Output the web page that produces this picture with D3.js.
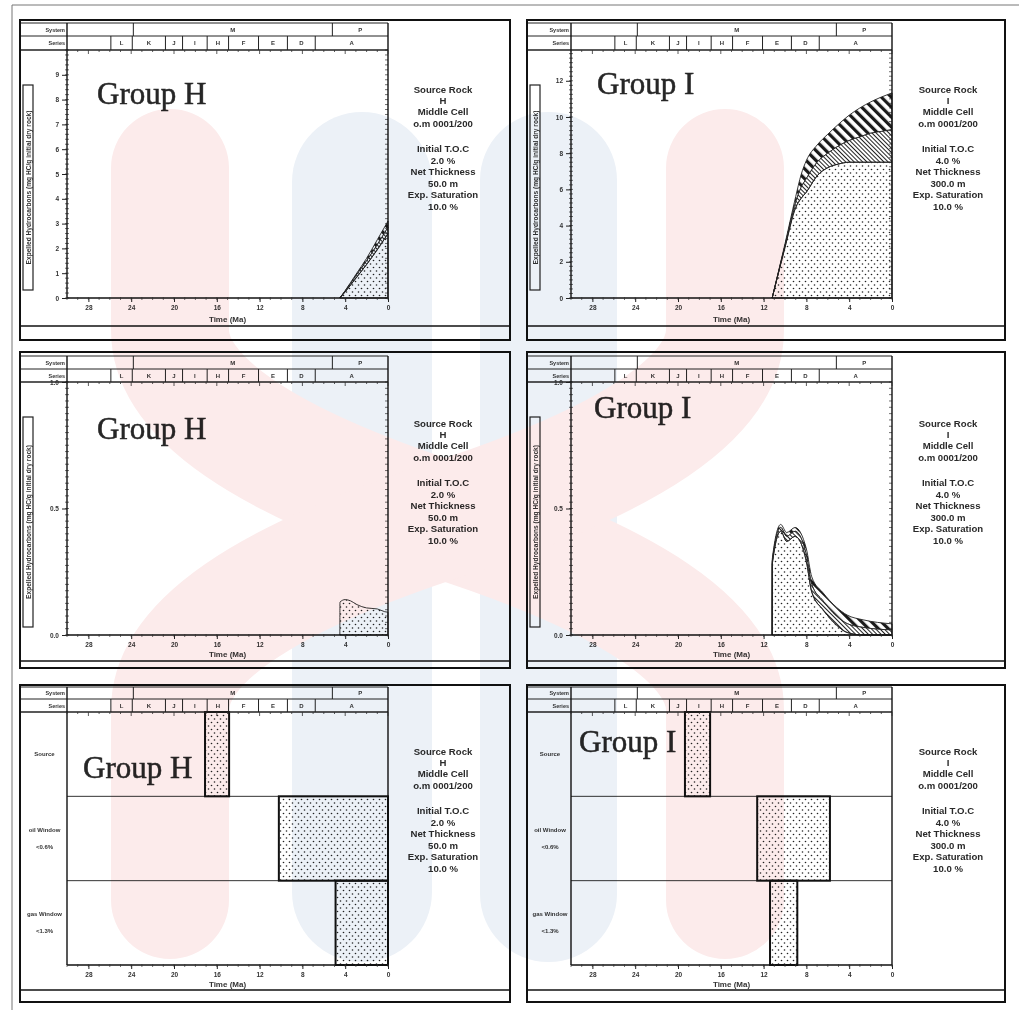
<!DOCTYPE html>
<html><head><meta charset="utf-8">
<script src="https://cdn.jsdelivr.net/npm/d3@7"></script>
<style>body{margin:0;background:#fff}svg{display:block}</style>
</head><body>
<svg id="c" width="1019" height="1010"></svg>
<script>
// ---------- DATA ----------
const timeTicks=[28,24,20,16,12,8,4,0];
const systemNames=["","M","P"];
const systemBounds=[30,23.8,5.2,0];
const seriesNames=["","L","K","J","I","H","F","E","D","A"];
const seriesBounds=[30,25.9,23.9,20.8,19.2,16.9,14.9,12.1,9.4,6.8,0];

// cumulative expelled hydrocarbons, Group H (mg HC/g)
const hTimes=[4.5,4,3,2,1,0];
const hOil=[0,0.25,0.8,1.35,1.95,2.6];
const hMid=[0,0.03,0.1,0.15,0.2,0.25];
const hTop=[0,0.02,0.05,0.1,0.2,0.25];

// cumulative expelled hydrocarbons, Group I
const iTimes=[11.2,10,9,8.5,8,7,6,5,4,3,2,1,0];
const iOil=[0,2.8,5.0,5.5,5.85,6.75,7.2,7.4,7.5,7.5,7.5,7.5,7.5];
const iMid=[0,0.1,0.3,0.6,0.75,0.75,0.8,1.0,1.2,1.4,1.6,1.7,1.8];
const iTop=[0,0.1,0.3,0.7,1.0,0.95,1.05,1.2,1.4,1.6,1.73,1.9,2.03];

// expulsion rate, Group H
const hRateTimes=[4.5,4.49,4.0,3.5,2.9,2.0,1.0,0.3,0];
const hRate=[0,0.13,0.14,0.135,0.12,0.107,0.103,0.092,0.09];

// expulsion rate, Group I
const iRateTimes=[11.2,11.19,10.4,9.84,9.06,8.0,7.5,6.45,5.2,4.2,2.7,0];
const iRateOil=[0,0.28,0.41,0.37,0.39,0.29,0.17,0.10,0.04,0.01,0,0];
const iRateMid=[0,0.01,0.015,0.02,0.02,0.025,0.03,0.035,0.035,0.035,0.03,0.02];
const iRateTop=[0,0.01,0.012,0.015,0.015,0.025,0.03,0.032,0.035,0.034,0.03,0.024];

// events
const eventRows=["Source","Oil","Gas"];
const eventRowLabels=[["Source"],["oil Window","<0.6%"],["gas Window","<1.3%"]];
const hEvents=[[17.1,14.85],[10.2,0],[4.9,0]];
const iEvents=[[19.35,17.0],[12.6,5.8],[11.4,8.85]];

const hInfo=["Source Rock","H","Middle Cell","o.m 0001/200","Initial T.O.C","2.0 %","Net Thickness","50.0 m","Exp. Saturation","10.0 %"];
const iInfo=["Source Rock","I","Middle Cell","o.m 0001/200","Initial T.O.C","4.0 %","Net Thickness","300.0 m","Exp. Saturation","10.0 %"];
const yTitle="Expelled Hydrocarbons (mg HC/g initial dry rock)";

// ---------- LAYOUT ----------
const rowsCfg=[
 {boxTop:20,boxBot:340,hdrTop:23,hdrMid:36,hdrBot:50,plotBot:298,strip:326,xLab:310,title:322,infoY:93,tb:[85,290]},
 {boxTop:352,boxBot:668,hdrTop:356,hdrMid:369,hdrBot:382,plotBot:635,strip:661,xLab:646,title:657,infoY:427,tb:[417,627]},
 {boxTop:685,boxBot:1002,hdrTop:687,hdrMid:699,hdrBot:712,plotBot:965,strip:990,xLab:976,title:987,infoY:755}
];
const colsCfg=[
 {boxL:20,boxR:510,plotL:67,plotR:388,infoX:443},
 {boxL:527,boxR:1005,plotL:571,plotR:892,infoX:948}
];

const svg=d3.select("#c");
const defs=svg.append("defs");
const pd=defs.append("pattern").attr("id","dots").attr("width",6).attr("height",7).attr("patternUnits","userSpaceOnUse");
pd.append("circle").attr("cx",1.5).attr("cy",1.5).attr("r",0.8).attr("fill","#222");
pd.append("circle").attr("cx",4.5).attr("cy",5).attr("r",0.8).attr("fill","#222");
const pf=defs.append("pattern").attr("id","fine").attr("width",3).attr("height",3).attr("patternUnits","userSpaceOnUse").attr("patternTransform","rotate(-45)");
pf.append("rect").attr("width",3).attr("height",3).attr("fill","#fff");
pf.append("line").attr("x1",0.5).attr("x2",0.5).attr("y1",0).attr("y2",3).attr("stroke","#222").attr("stroke-width",1);
const pc=defs.append("pattern").attr("id","coarse").attr("width",7).attr("height",7).attr("patternUnits","userSpaceOnUse").attr("patternTransform","rotate(-45)");
pc.append("rect").attr("width",7).attr("height",7).attr("fill","#fff");
pc.append("rect").attr("x",0).attr("width",3.2).attr("height",7).attr("fill","#1a1a1a");

svg.append("rect").attr("width",1019).attr("height",1010).attr("fill","#fff");
svg.append("line").attr("x1",12).attr("x2",1019).attr("y1",5).attr("y2",5).attr("stroke","#777");
svg.append("line").attr("x1",12).attr("x2",12).attr("y1",5).attr("y2",1010).attr("stroke","#777");

const panels=[
 {r:0,c:0,type:"cum",group:"Group H",gx:97,gy:104,info:hInfo,yMax:10,yLabels:d3.range(0,10),fmt:"d",minor:0.2,
  times:hTimes,layers:[["oil",hOil,"url(#dots)"],["mid",hMid,"url(#fine)"],["top",hTop,"url(#coarse)"]]},
 {r:0,c:1,type:"cum",group:"Group I",gx:597,gy:94,info:iInfo,yMax:13.7,yLabels:[0,2,4,6,8,10,12],fmt:"d",minor:0.25,
  times:iTimes,layers:[["oil",iOil,"url(#dots)"],["mid",iMid,"url(#fine)"],["top",iTop,"url(#coarse)"]]},
 {r:1,c:0,type:"cum",group:"Group H",gx:97,gy:439,info:hInfo,yMax:1,yLabels:[0,0.5,1.0],fmt:".1f",minor:0.025,
  times:hRateTimes,layers:[["oil",hRate,"url(#dots)"]]},
 {r:1,c:1,type:"cum",group:"Group I",gx:594,gy:418,info:iInfo,yMax:1,yLabels:[0,0.5,1.0],fmt:".1f",minor:0.025,
  times:iRateTimes,layers:[["oil",iRateOil,"url(#dots)"],["mid",iRateMid,"url(#fine)"],["top",iRateTop,"url(#coarse)"]]},
 {r:2,c:0,type:"events",group:"Group H",gx:83,gy:778,info:hInfo,events:hEvents},
 {r:2,c:1,type:"events",group:"Group I",gx:579,gy:752,info:iInfo,events:iEvents}
];

const FONT="Liberation Sans, Arial, sans-serif";

function drawPanel(p){
  const R=rowsCfg[p.r], C=colsCfg[p.c];
  const g=svg.append("g");
  const x=d3.scaleLinear().domain([30,0]).range([C.plotL,C.plotR]);

  // marks
  if(p.type==="events"){
    const yb=d3.scaleBand().domain(eventRows).range([R.hdrBot,R.plotBot]);
    eventRows.slice(1).forEach(k=>{
      g.append("line").attr("x1",C.plotL).attr("x2",C.plotR).attr("y1",yb(k)).attr("y2",yb(k)).attr("stroke","#333").attr("stroke-width",1);
    });
    g.selectAll("rect.ev").data(p.events).join("rect").attr("class","ev")
      .attr("x",d=>x(d[0])).attr("width",d=>x(d[1])-x(d[0]))
      .attr("y",(d,i)=>yb(eventRows[i])).attr("height",yb.bandwidth())
      .attr("fill","url(#dots)").attr("stroke","#111").attr("stroke-width",2);
    eventRowLabels.forEach((lab,i)=>{
      const cy=yb(eventRows[i])+yb.bandwidth()/2;
      lab.forEach((t,j)=>{
        g.append("text").attr("x",(C.boxL+C.plotL)/2+1).attr("y",cy+(j-(lab.length-1)/2)*17+2)
         .attr("text-anchor","middle").attr("font-family",FONT).attr("font-weight","bold").attr("font-size",6).attr("fill","#333").text(t);
      });
    });
  } else {
    const y=d3.scaleLinear().domain([0,p.yMax]).range([R.plotBot,R.hdrBot]);
    const table=p.times.map((t,i)=>{const o={t};p.layers.forEach(l=>o[l[0]]=l[1][i]);return o;});
    const keys=p.layers.map(l=>l[0]);
    const series=d3.stack().keys(keys)(table);
    const area=d3.area().x(d=>x(d.data.t)).y0(d=>y(d[0])).y1(d=>y(d[1])).curve(d3.curveMonotoneX);
    series.slice().reverse().forEach(s=>{
      const l=p.layers.find(q=>q[0]===s.key);
      g.append("path").attr("d",area(s)).attr("fill",l[2]).attr("stroke","#222").attr("stroke-width",0.9);
    });
    // y axis
    const ya=g.append("g").attr("transform",`translate(${C.plotL},0)`)
      .call(d3.axisLeft(y).tickValues(p.yLabels).tickSize(5).tickFormat(d3.format(p.fmt)));
    ya.select(".domain").remove();
    ya.selectAll("text").attr("font-family",FONT).attr("font-weight","bold").attr("font-size",6.5).attr("fill","#333");
    ya.selectAll("line").attr("stroke","#222");
    const mv=d3.range(0,p.yMax+1e-9,p.minor);
    g.selectAll("line.ymin").data(mv).join("line").attr("class","ymin")
      .attr("x1",C.plotL-2).attr("x2",C.plotL+2).attr("y1",d=>y(d)).attr("y2",d=>y(d)).attr("stroke","#333").attr("stroke-width",0.7);
    g.selectAll("line.ymin2").data(mv).join("line").attr("class","ymin2")
      .attr("x1",C.plotR-3).attr("x2",C.plotR).attr("y1",d=>y(d)).attr("y2",d=>y(d)).attr("stroke","#333").attr("stroke-width",0.7);
    // y title box
    const cx=C.boxL+8, cy=(R.tb[0]+R.tb[1])/2;
    g.append("rect").attr("x",C.boxL+3).attr("y",R.tb[0]).attr("width",10).attr("height",R.tb[1]-R.tb[0]).attr("fill","#fff").attr("stroke","#222").attr("stroke-width",1.2);
    g.append("text").attr("transform",`translate(${cx+2.5},${cy}) rotate(-90)`).attr("text-anchor","middle")
      .attr("font-family",FONT).attr("font-weight","bold").attr("font-size",6.6).attr("fill","#333").text(yTitle);
  }

  // panel box and strip
  g.append("rect").attr("x",C.boxL).attr("y",R.boxTop).attr("width",C.boxR-C.boxL).attr("height",R.boxBot-R.boxTop)
    .attr("fill","none").attr("stroke","#111").attr("stroke-width",2);
  g.append("line").attr("x1",C.boxL).attr("x2",C.boxR).attr("y1",R.strip).attr("y2",R.strip).attr("stroke","#111").attr("stroke-width",1.6);

  // header
  [R.hdrTop,R.hdrMid,R.hdrBot].forEach((yy,i)=>{
    g.append("line").attr("x1",C.boxL+1).attr("x2",C.plotR).attr("y1",yy).attr("y2",yy).attr("stroke","#222").attr("stroke-width",i===2?1.4:1);
  });
  g.append("line").attr("x1",C.plotL).attr("x2",C.plotL).attr("y1",R.hdrTop).attr("y2",R.plotBot).attr("stroke","#111").attr("stroke-width",1.4);
  g.append("line").attr("x1",C.plotR).attr("x2",C.plotR).attr("y1",R.hdrTop).attr("y2",R.plotBot).attr("stroke","#111").attr("stroke-width",1.4);
  systemBounds.slice(1,-1).forEach(b=>g.append("line").attr("x1",x(b)).attr("x2",x(b)).attr("y1",R.hdrTop).attr("y2",R.hdrMid).attr("stroke","#222"));
  seriesBounds.slice(1,-1).forEach(b=>g.append("line").attr("x1",x(b)).attr("x2",x(b)).attr("y1",R.hdrMid).attr("y2",R.hdrBot).attr("stroke","#222"));
  const lab=(xx,yy,t,anchor,fs)=>g.append("text").attr("x",xx).attr("y",yy).attr("text-anchor",anchor||"middle")
     .attr("font-family",FONT).attr("font-weight","bold").attr("font-size",fs||6).attr("fill","#333").text(t);
  systemNames.forEach((n,i)=>{ if(n) lab((x(systemBounds[i])+x(systemBounds[i+1]))/2,(R.hdrTop+R.hdrMid)/2+2,n); });
  seriesNames.forEach((n,i)=>{ if(n) lab((x(seriesBounds[i])+x(seriesBounds[i+1]))/2,(R.hdrMid+R.hdrBot)/2+2,n); });
  lab(C.plotL-2,(R.hdrTop+R.hdrMid)/2+2,"System","end",5.5);
  lab(C.plotL-2,(R.hdrMid+R.hdrBot)/2+2,"Series","end",5.5);
  // top ticks
  const minorT=d3.range(0,31,1);
  g.selectAll("line.tt").data(minorT).join("line").attr("class","tt")
    .attr("x1",d=>x(d)).attr("x2",d=>x(d)).attr("y1",R.hdrBot).attr("y2",d=>R.hdrBot+(d%4===0?4:2)).attr("stroke","#333").attr("stroke-width",0.8);

  // x axis
  const xa=g.append("g").attr("transform",`translate(0,${R.plotBot})`)
    .call(d3.axisBottom(x).tickValues(timeTicks).tickSize(4).tickPadding(3).tickFormat(d3.format("d")));
  xa.select(".domain").attr("stroke","#111").attr("stroke-width",1.4).attr("d",`M${C.plotL},0H${C.plotR}`);
  xa.selectAll("text").attr("font-family",FONT).attr("font-weight","bold").attr("font-size",6.5).attr("fill","#333");
  xa.selectAll("line").attr("stroke","#222");
  g.selectAll("line.xm").data(minorT).join("line").attr("class","xm")
    .attr("x1",d=>x(d)).attr("x2",d=>x(d)).attr("y1",R.plotBot-1).attr("y2",R.plotBot+2).attr("stroke","#333").attr("stroke-width",0.7);
  lab((C.plotL+C.plotR)/2,R.title,"Time (Ma)","middle",8);

  // info text
  p.info.forEach((t,i)=>{
    const yy=R.infoY+(i<4?i*11.2:59+(i-4)*11.5);
    lab(C.infoX,yy,t,"middle",9.6).attr("fill","#2a2a2a");
  });
  // group label
  g.append("text").attr("x",p.gx).attr("y",p.gy).attr("font-family","Liberation Serif, Times New Roman, serif")
    .attr("font-size",31).attr("fill","#262626").attr("stroke","#262626").attr("stroke-width",0.5).text(p.group);
}
panels.forEach(drawPanel);

// faint watermark logo (multiply blended)
const wm=svg.append("g").style("mix-blend-mode","multiply").attr("pointer-events","none");
wm.append("rect").attr("x",292).attr("y",112).attr("width",140).attr("height",850).attr("rx",70).attr("fill","#ecf1f7");
wm.append("rect").attr("x",480).attr("y",112).attr("width",137).attr("height",850).attr("rx",68).attr("fill","#ecf1f7");
wm.append("path").attr("d","M170,168 V330 Q170,430 445,520 Q725,610 725,710 V900").attr("fill","none").attr("stroke","#fcebeb").attr("stroke-width",118).attr("stroke-linecap","round");
wm.append("path").attr("d","M725,168 V330 Q725,430 445,520 Q170,610 170,710 V900").attr("fill","none").attr("stroke","#fcebeb").attr("stroke-width",118).attr("stroke-linecap","round");
</script>
</body></html>
